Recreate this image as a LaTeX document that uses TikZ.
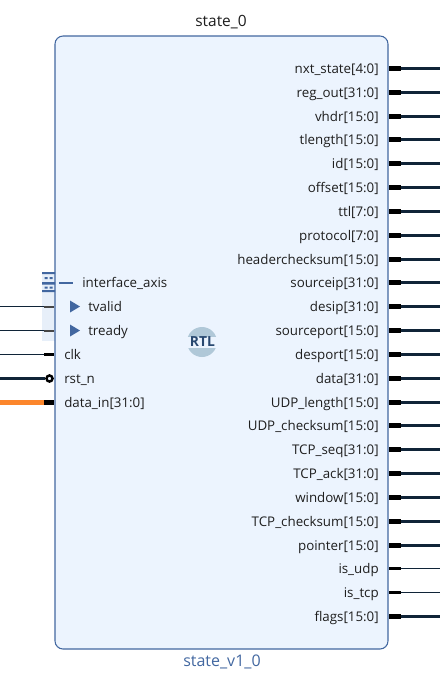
\documentclass[tikz,border=0pt]{standalone}
\usepackage{fontspec}
\setmainfont{Open Sans}
\usetikzlibrary{arrows.meta,positioning,calc}
\definecolor{boxfill}{RGB}{236,244,254}
\definecolor{boxline}{RGB}{66,103,160}
\definecolor{bandfill}{RGB}{231,239,249}
\definecolor{wirenavy}{RGB}{16,36,56}
\definecolor{pinorange}{RGB}{252,134,44}
\definecolor{pingray}{RGB}{70,70,70}
\definecolor{rtlcircle}{RGB}{176,200,216}
\definecolor{rtltext}{RGB}{40,72,112}
\definecolor{labeltext}{RGB}{30,30,30}
\tikzset{
  portlabel/.style={font=\fontsize{10pt}{12pt}\selectfont, text=labeltext, inner sep=0pt},
  netwire/.style={wirenavy, line width=0.75pt},
  buswire/.style={wirenavy, line width=2.25pt},
  netpin/.style={black, line width=2.25pt},
  buspin/.style={black, line width=3.75pt},
}
\begin{document}
\begin{tikzpicture}[x=0.75pt,y=-0.75pt]
    \useasboundingbox (0,0) rectangle (440,679);

    % Interface band
    \fill[bandfill] (42,272) rectangle (55,341);

    % Main block
    \node[draw=boxline, line width=0.8pt, fill=boxfill, rounded corners=6pt, minimum width=249.75pt, minimum height=459.75pt, inner sep=0pt] (statebox) at (221.5,342.5) {};
    \node[font=\fontsize{11.6pt}{14pt}\selectfont, text=labeltext, inner sep=0pt, anchor=base] (blockname) at (221,26.5) {state\_0};
    \node[font=\fontsize{12pt}{14pt}\selectfont, text=boxline, inner sep=0pt, anchor=base] (cellname) at (222,666.5) {state\_v1\_0};

    % Output ports
    \foreach \portname/\kind [count=\i from 0] in {nxt\_state[4:0]/bus, reg\_out[31:0]/bus, vhdr[15:0]/bus, tlength[15:0]/bus, id[15:0]/bus, offset[15:0]/bus, ttl[7:0]/bus, protocol[7:0]/bus, headerchecksum[15:0]/bus, sourceip[31:0]/bus, desip[31:0]/bus, sourceport[15:0]/bus, desport[15:0]/bus, data[31:0]/bus, UDP\_length[15:0]/bus, UDP\_checksum[15:0]/bus, TCP\_seq[31:0]/bus, TCP\_ack[31:0]/bus, window[15:0]/bus, TCP\_checksum[15:0]/bus, pointer[15:0]/bus, is\_udp/net, is\_tcp/net, flags[15:0]/bus} {
        \pgfmathsetmacro\ypos{round(23.83*\i)+68.5}
        \node[portlabel, anchor=base east] (outlabel\i) at (379,\ypos+4.5) {\portname};
        \coordinate (outpin\i) at (389,\ypos);
        \coordinate (outjoint\i) at (401,\ypos);
        \coordinate (outend\i) at (440,\ypos);
        \draw[\kind pin] (outpin\i) -- (outjoint\i);
        \draw[\kind wire] (outjoint\i) -- (outend\i);
    }

    % Interface icon
    \fill[boxline] (42,272) rectangle (55,274) (42,282) rectangle (55,284.5) (42,290) rectangle (55,292);
    \fill[boxline] (44.5,277) rectangle (47.5,279) (49.5,277) rectangle (52.5,279) (44.5,286.5) rectangle (47.5,288.5) (49.5,286.5) rectangle (52.5,288.5);
    \draw[boxline, line width=1.3pt] (59,283) -- (73,283);
    \node[portlabel, anchor=base west] (axislabel) at (82,287.5) {interface\_axis};

    % Interface members
    \foreach \portname/\ypos in {tvalid/306.5, tready/330.5} {
        \fill[boxline] (70,\ypos-6) -- (80,\ypos) -- (70,\ypos+6) -- cycle;
        \node[portlabel, anchor=base west] (\portname label) at (88,\ypos+4.5) {\portname};
        \coordinate (\portname end) at (0,\ypos);
        \coordinate (\portname joint) at (44,\ypos);
        \coordinate (\portname pin) at (54,\ypos);
        \draw[netwire] (\portname end) -- (\portname joint);
        \draw[pingray, line width=1.5pt] (\portname joint) -- (\portname pin);
    }

    % Clock and reset
    \node[portlabel, anchor=base west] (clklabel) at (64,359) {clk};
    \coordinate (clkend) at (0,354.5);
    \coordinate (clkjoint) at (44,354.5);
    \coordinate (clkpin) at (54,354.5);
    \draw[netwire] (clkend) -- (clkjoint);
    \draw[netpin] (clkjoint) -- (clkpin);

    \node[portlabel, anchor=base west] (rstlabel) at (64,383) {rst\_n};
    \coordinate (rstend) at (0,378.5);
    \node[circle, draw=black, line width=1.8pt, fill=boxfill, minimum size=4.6pt, inner sep=0pt] (rstbubble) at (49.5,378.5) {};
    \draw[wirenavy, line width=2.25pt] (rstend) -- (rstbubble);

    % Data input
    \node[portlabel, anchor=base west] (datalabel) at (64,407) {data\_in[31:0]};
    \coordinate (dataend) at (0,402.5);
    \coordinate (datajoint) at (44,402.5);
    \coordinate (datapin) at (54,402.5);
    \draw[pinorange, line width=3.75pt] (dataend) -- (datajoint);
    \draw[buspin] (datajoint) -- (datapin);

    % RTL badge
    \fill[rtlcircle] (202,342) circle (15);
    \fill[boxfill] (186,336.5) rectangle (218,348);
    \node[font=\fontsize{10.4pt}{12pt}\selectfont\bfseries, text=rtltext, inner sep=0pt] (rtlbadge) at (202.5,342) {RTL};

\end{tikzpicture}
\end{document}
